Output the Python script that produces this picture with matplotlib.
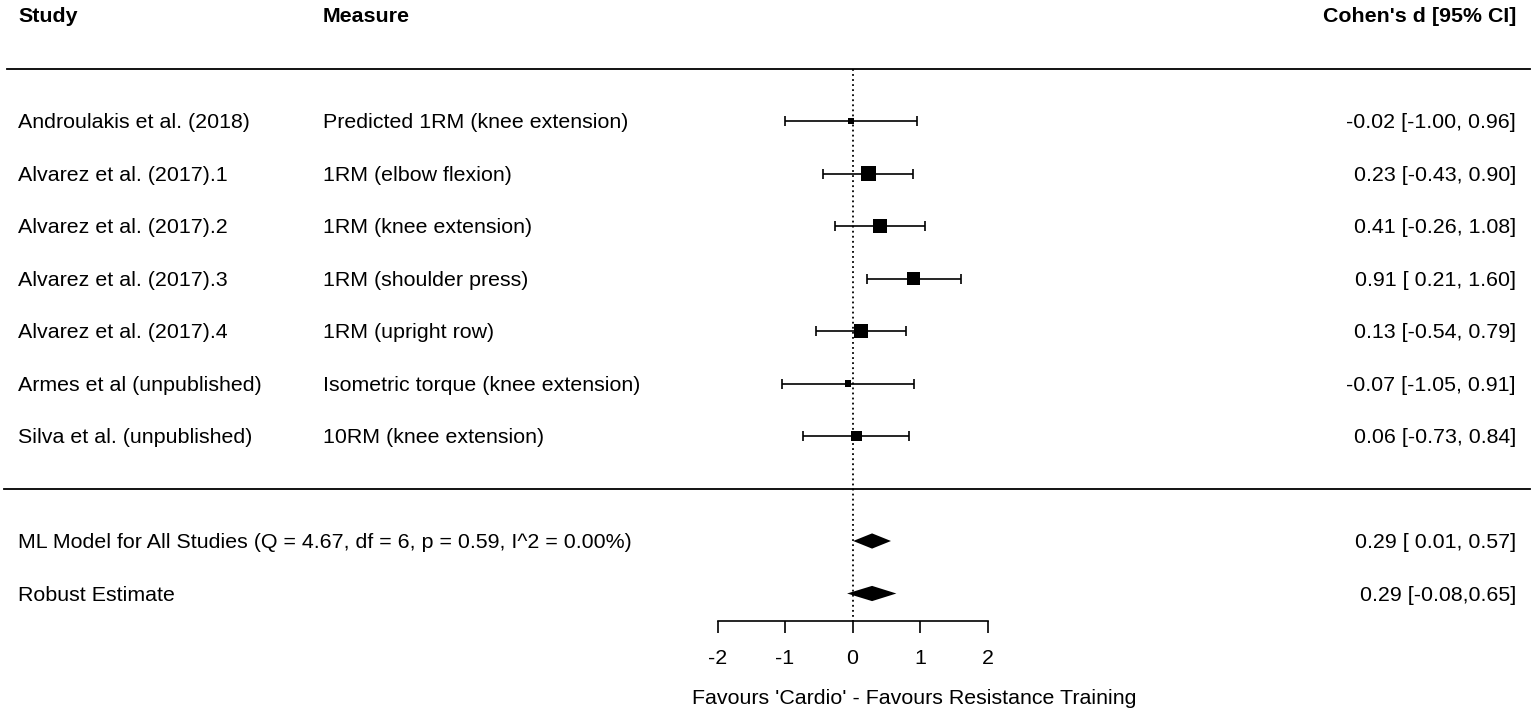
import numpy as np
import matplotlib
matplotlib.use("Agg")
import matplotlib.pyplot as plt
import matplotlib.transforms as mtransforms

plt.rcParams["font.family"] = ["Liberation Sans", "DejaVu Sans"]

# --- data ---
studies = [
    "Androulakis et al. (2018)",
    "Alvarez et al. (2017).1",
    "Alvarez et al. (2017).2",
    "Alvarez et al. (2017).3",
    "Alvarez et al. (2017).4",
    "Armes et al (unpublished)",
    "Silva et al. (unpublished)",
]
measures = [
    "Predicted 1RM (knee extension)",
    "1RM (elbow flexion)",
    "1RM (knee extension)",
    "1RM (shoulder press)",
    "1RM (upright row)",
    "Isometric torque (knee extension)",
    "10RM (knee extension)",
]
effect = [-0.02, 0.23, 0.41, 0.91, 0.13, -0.07, 0.06]
ci_low = [-1.00, -0.43, -0.26, 0.21, -0.54, -1.05, -0.73]
ci_high = [0.96, 0.90, 1.08, 1.60, 0.79, 0.91, 0.84]
rel_weight = [0.36, 1.00, 0.94, 0.87, 0.94, 0.42, 0.68]

summary_labels = [
    "ML Model for All Studies (Q = 4.67, df = 6, p = 0.59, I^2 = 0.00%)",
    "Robust Estimate",
]
summary_est = [0.29, 0.29]
summary_low = [0.01, -0.08]
summary_high = [0.57, 0.65]

x_ticks = [-2, -1, 0, 1, 2]
x_label = "Favours 'Cardio' - Favours Resistance Training"


def fmt_ci(d, lo, hi, robust=False):
    if robust:
        return f"{d:.2f} [{lo:.2f},{hi:.2f}]"
    return f"{d:.2f} [{lo:5.2f}, {hi:.2f}]"


W, H = 1536, 717
fig = plt.figure(figsize=(W / 100, H / 100), dpi=100)
ax = fig.add_axes([0, 0, 1, 1])

# horizontal scale: 0 at px 852.5, 67.5 px per unit; rows 52.5 px apart
x0, ppu = 852.5, 67.5
row0, rowh = 121, 52.5
ax.set_xlim((0 - x0) / ppu, (W - x0) / ppu)
ax.set_ylim((H - row0) / rowh, (0 - row0) / rowh)

fs = 15.4
dy = 0.035  # text sits a touch lower than the marks
col_study = 18 / W
col_measure = 323 / W
col_right = 1516 / W
tr = mtransforms.blended_transform_factory(ax.transAxes, ax.transData)

rows = np.arange(len(studies))
sum_rows = len(studies) + 1 + np.arange(len(summary_labels))
header_y = -2.02
top_line_y = -1.0
sep_y = len(studies)
axis_y = sum_rows[-1] + 0.52

# header
for xc, txt, ha in [(col_study, "Study", "left"), (col_measure, "Measure", "left"),
                    (col_right, "Cohen's d [95% CI]", "right")]:
    ax.text(xc, header_y + dy, txt, transform=tr, fontsize=fs, fontweight="bold",
            va="center", ha=ha)

# rules
ax.axhline(top_line_y, xmin=7 / W, xmax=1530 / W, color="black", lw=1.3)
ax.axhline(sep_y, xmin=4 / W, xmax=1530 / W, color="black", lw=1.3)

# reference line at zero
ax.plot([0, 0], [top_line_y, axis_y], color="black", lw=1.3, ls=(0, (1, 1.8)))

# study rows
for i, r in enumerate(rows):
    ax.text(col_study, r + dy, studies[i], transform=tr, fontsize=fs, va="center", ha="left")
    ax.text(col_measure, r + dy, measures[i], transform=tr, fontsize=fs, va="center", ha="left")
    ax.text(col_right, r + dy, fmt_ci(effect[i], ci_low[i], ci_high[i]), transform=tr,
            fontsize=fs, va="center", ha="right")

ax.errorbar(effect, rows,
            xerr=[np.subtract(effect, ci_low), np.subtract(ci_high, effect)],
            fmt="none", ecolor="black", elinewidth=1.2, capsize=3.3, capthick=1.2)
side_pt = 15 * 0.72 * np.asarray(rel_weight)
ax.scatter(effect, rows, marker="s", s=side_pt ** 2, color="black", zorder=3, linewidths=0)

# summary rows
half_h = 0.145
for j, r in enumerate(sum_rows):
    ax.text(col_study, r + dy, summary_labels[j], transform=tr, fontsize=fs, va="center", ha="left")
    ax.text(col_right, r + dy, fmt_ci(summary_est[j], summary_low[j], summary_high[j], robust=(j == 1)),
            transform=tr, fontsize=fs, va="center", ha="right")
    ax.fill([summary_low[j], summary_est[j], summary_high[j], summary_est[j]],
            [r, r - half_h, r, r + half_h], color="black", lw=0, zorder=3)

# x axis drawn with the library's own spine
for side in ["top", "left", "right"]:
    ax.spines[side].set_visible(False)
ax.spines["bottom"].set_position(("data", axis_y))
ax.spines["bottom"].set_bounds(x_ticks[0], x_ticks[-1])
ax.spines["bottom"].set_linewidth(1.2)
ax.set_xticks(x_ticks)
ax.set_xticklabels([str(t) for t in x_ticks])
ax.tick_params(axis="x", direction="out", length=8.6, width=1.2, pad=12, labelsize=fs)
ax.set_yticks([])
ax.text((914 - x0) / ppu, (698 - row0) / rowh, x_label, fontsize=fs, ha="center", va="center")

fig.savefig("out.png", dpi=100)
